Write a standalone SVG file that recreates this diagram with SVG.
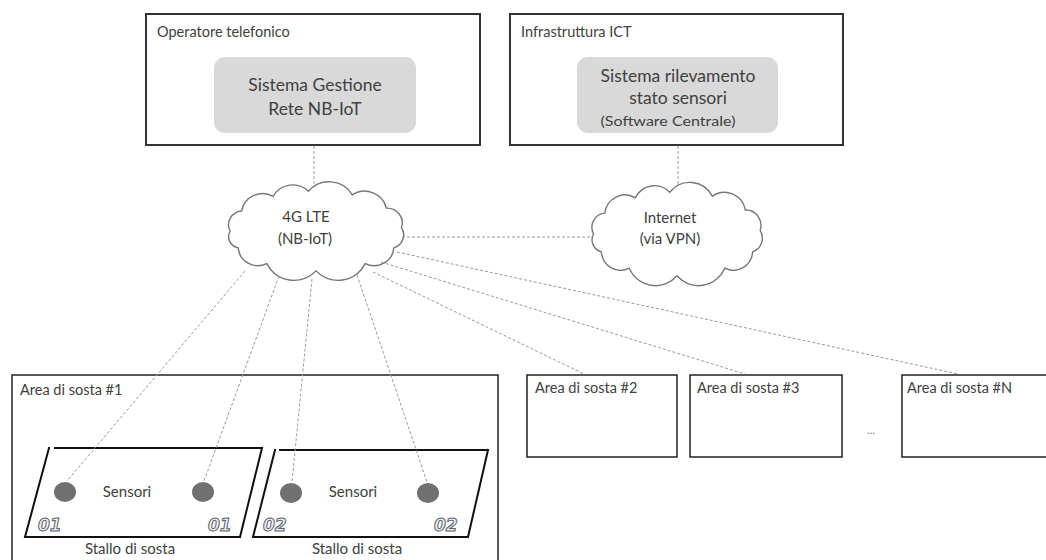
<svg xmlns="http://www.w3.org/2000/svg" width="1046" height="560" viewBox="0 0 1046 560">
<style>
text{font-family:Lato,"Open Sans","Liberation Sans",sans-serif;fill:#404040}
.box{fill:#fff;stroke:#333;stroke-width:2}
.abox{fill:#fff;stroke:#222;stroke-width:1.5}
.inner{fill:#d9d9d9;stroke:none}
.lbl{font-size:14.5px}
.big{font-size:17.5px;text-anchor:middle}
.mid{font-size:15px;text-anchor:middle}
.cloud{fill:#fff;stroke:#777;stroke-width:1.3}
.dash{stroke:#9a9a9a;stroke-width:1;stroke-dasharray:3 2;fill:none}
.stall{stroke:#111;stroke-width:2;fill:none;stroke-linecap:square}
.sensor{fill:#707070}
.num{font-family:"DejaVu Sans",sans-serif;font-size:17px;font-weight:bold;font-style:italic;fill:#eef0f5;stroke:#5a5f6a;stroke-width:1}
</style>
<defs>
<path id="cloudShape" d="M-78,0 A13,13 0 0 1 -67.5,-19 A19,19 0 0 1 -39,-32.9 A20,20 0 0 1 -6.8,-37.9 A24,24 0 0 1 33,-34.4 A20,20 0 0 1 63.9,-21.8 A14,14 0 0 1 77.7,-3.3 A13,13 0 0 1 70.7,16.1 A18,18 0 0 1 44.7,31.1 A27,27 0 0 1 0,38 A27,27 0 0 1 -44.7,31.1 A18,18 0 0 1 -70.7,16.1 A11,11 0 0 1 -78,0 Z"/>
</defs>
<rect width="1046" height="560" fill="#fff"/>

<g id="operatore">
<rect class="box" x="146" y="14" width="334" height="131"/>
<text class="lbl" x="157" y="37">Operatore telefonico</text>
<rect class="inner" x="214" y="57" width="202" height="76" rx="11"/>
<text class="big" x="315" y="91">Sistema Gestione</text>
<text class="big" x="315" y="115">Rete NB-IoT</text>
</g>

<g id="infrastruttura">
<rect class="box" x="510" y="14" width="333" height="131"/>
<text class="lbl" x="521" y="37">Infrastruttura ICT</text>
<rect class="inner" x="577" y="57" width="201" height="76" rx="11"/>
<text class="big" x="678" y="82">Sistema rilevamento</text>
<text class="big" x="678" y="104">stato sensori</text>
<text class="mid" x="668" y="126" style="font-size:14px" textLength="135" lengthAdjust="spacingAndGlyphs">(Software Centrale)</text>
</g>

<g id="cloud-4g">
<use href="#cloudShape" class="cloud" transform="translate(316,231) scale(1.1,1.05)"/>
<text class="mid" x="306" y="222">4G LTE</text>
<text class="mid" x="305" y="244">(NB-IoT)</text>
</g>

<g id="cloud-internet">
<use href="#cloudShape" class="cloud" transform="translate(677,234) scale(1.07,1.1)"/>
<text class="mid" x="670" y="223">Internet</text>
<text class="mid" x="670" y="244">(via VPN)</text>
</g>

<g id="area1">
<rect class="abox" x="12" y="375" width="486" height="190"/>
<text class="lbl" x="20" y="395">Area di sosta #1</text>
</g>

<g id="stallo1">
<path class="stall" d="M55,448 H262 M49,448 L25,537 H240 M262,448 L240,537"/>
<ellipse class="sensor" cx="65" cy="492" rx="11" ry="10"/>
<ellipse class="sensor" cx="203" cy="492" rx="11" ry="10"/>
<text class="mid" x="127" y="497">Sensori</text>
<text class="num" x="38" y="531">01</text>
<text class="num" x="208" y="531">01</text>
<text class="mid" x="130" y="554" style="font-size:15px">Stallo di sosta</text>
</g>

<g id="stallo2">
<path class="stall" d="M280,450 H488 M275,450 L253,537 H468 M488,450 L468,537"/>
<ellipse class="sensor" cx="291" cy="493" rx="11" ry="10"/>
<ellipse class="sensor" cx="428" cy="493" rx="11" ry="10"/>
<text class="mid" x="353" y="497">Sensori</text>
<text class="num" x="263" y="531">02</text>
<text class="num" x="434" y="531">02</text>
<text class="mid" x="357" y="554" style="font-size:15px">Stallo di sosta</text>
</g>

<g id="area2">
<rect class="abox" x="527" y="375" width="150" height="82"/>
<text class="lbl" x="535" y="393">Area di sosta #2</text>
</g>

<g id="area3">
<rect class="abox" x="690" y="375" width="152" height="82"/>
<text class="lbl" x="697" y="393">Area di sosta #3</text>
</g>

<g id="ellipsis">
<text x="871" y="434" style="font-size:11px;fill:#777;text-anchor:middle">...</text>
</g>

<g id="areaN">
<rect class="abox" x="902" y="375" width="150" height="82"/>
<text class="lbl" x="907" y="393">Area di sosta #N</text>
</g>

<g id="connectors">
<line class="dash" x1="314" y1="146" x2="314" y2="186"/>
<line class="dash" x1="678" y1="146" x2="678" y2="186"/>
<line class="dash" x1="402" y1="237" x2="592" y2="237"/>
<line class="dash" x1="397" y1="252" x2="958" y2="374"/>
<line class="dash" x1="381" y1="262" x2="745" y2="374"/>
<line class="dash" x1="373" y1="272" x2="584" y2="374"/>
<line class="dash" x1="245" y1="271" x2="67" y2="481"/>
<line class="dash" x1="279" y1="276" x2="204" y2="481"/>
<line class="dash" x1="312" y1="279" x2="292" y2="482"/>
<line class="dash" x1="357" y1="275" x2="427" y2="482"/>
</g>
</svg>
